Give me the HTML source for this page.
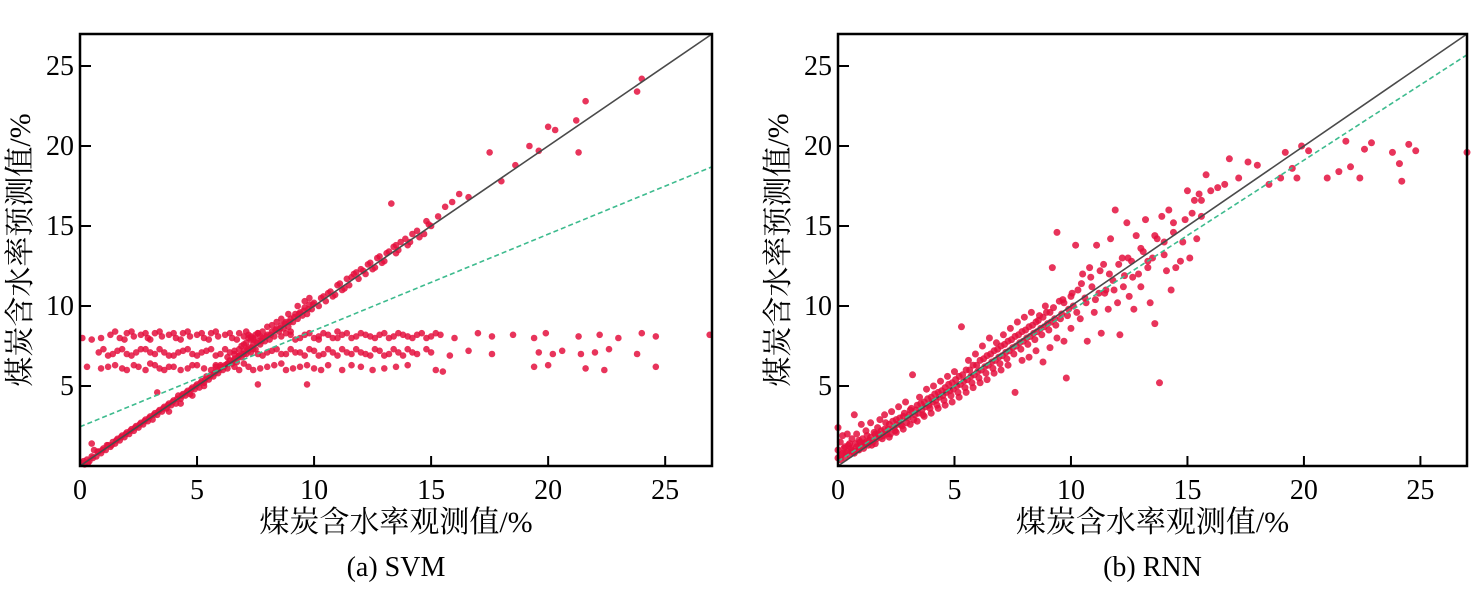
<!DOCTYPE html>
<html><head><meta charset="utf-8"><style>
html,body{margin:0;padding:0;background:#fff;}
svg{display:block;}
text{font-family:"Liberation Serif","Noto Serif CJK SC",serif;fill:#000;}
</style></head><body>
<svg id="fig" width="1471" height="610" viewBox="0 0 1471 610" xmlns="http://www.w3.org/2000/svg"></svg>
<script>
const xTicks=[0,5,10,15,20,25];
const yTicks=[5,10,15,20,25];
const svmDiag=[[0.1,0.2],[0.2,0.1],[0.3,0.4],[0.4,0.3],[0.5,0.6],[0.5,1.4],[0.6,1.0],[0.7,0.6],[0.8,0.9],[0.9,0.8],[1.0,1.1],[1.1,1.0],[1.2,1.3],[1.3,1.2],[1.4,1.5],[1.5,1.4],[1.6,1.7],[1.7,1.6],[1.8,1.9],[1.9,1.8],[2.0,2.1],[2.1,2.0],[2.2,2.3],[2.3,2.2],[2.4,2.5],[2.5,2.4],[2.6,2.7],[2.7,2.6],[2.8,2.9],[2.9,2.8],[3.0,3.1],[3.1,2.9],[3.2,3.3],[3.3,3.2],[3.3,4.6],[3.4,3.5],[3.5,3.4],[3.6,3.7],[3.7,3.6],[3.8,3.9],[3.9,3.8],[4.0,4.1],[4.1,3.9],[4.2,4.4],[4.3,4.2],[4.4,4.5],[4.5,4.4],[4.6,4.7],[4.7,4.5],[4.8,4.9],[4.9,4.8],[5.0,5.1],[5.1,4.9],[5.2,5.3],[5.3,5.2],[5.4,5.6],[5.5,5.4],[5.6,5.7],[5.7,5.6],[5.8,5.9],[5.9,5.8],[6.0,6.2],[6.1,6.0],[6.2,6.3],[6.3,6.1],[6.4,6.6],[6.5,6.4],[6.6,6.7],[6.7,6.5],[6.8,6.9],[6.9,6.8],[7.0,7.2],[7.1,7.0],[7.2,7.4],[7.3,7.1],[7.4,7.6],[7.5,7.3],[7.6,7.8],[7.7,7.6],[7.8,8.0],[7.9,7.8],[8.0,8.2],[8.1,7.9],[8.2,8.4],[8.3,8.1],[8.4,8.6],[8.5,8.4],[8.6,8.8],[8.7,8.6],[8.8,9.0],[8.9,8.7],[9.0,9.2],[9.1,9.0],[9.2,9.5],[9.3,9.2],[9.4,9.6],[9.5,9.4],[9.6,9.9],[9.7,9.5],[9.8,10.1],[9.9,9.8],[10.0,10.2],[10.2,10.0],[10.4,10.6],[10.5,10.3],[10.7,10.9],[10.9,10.7],[11.0,11.3],[11.2,11.0],[11.4,11.7],[11.5,11.3],[11.7,12.0],[11.9,11.7],[12.0,12.3],[12.2,12.0],[12.4,12.7],[12.6,12.4],[12.8,13.1],[13.0,12.8],[13.2,13.4],[13.3,16.4],[13.5,13.3],[13.5,13.8],[13.7,14.0],[14.0,13.8],[14.2,14.5],[14.5,14.3],[14.8,15.3],[15.0,15.0],[15.3,15.6],[15.6,16.2],[15.9,16.5],[16.2,17.0],[16.6,16.8],[17.5,19.6],[18.0,17.8],[18.6,18.8],[19.2,20.0],[19.6,19.7],[20.0,21.2],[20.3,21.0],[21.2,21.6],[21.6,22.8],[21.3,19.6],[23.8,23.4],[24.0,24.2]];
const svmDiag2=[[0.15,0.3],[0.35,0.2],[0.55,0.5],[0.75,0.9],[0.95,1.0],[1.15,1.3],[1.35,1.3],[1.55,1.6],[1.75,1.8],[1.95,2.0],[2.15,2.2],[2.35,2.4],[2.55,2.6],[2.75,2.8],[2.95,3.0],[3.15,3.2],[3.35,3.4],[3.55,3.6],[3.75,3.8],[3.95,4.0],[4.15,4.2],[4.35,4.4],[4.55,4.6],[4.75,4.8],[4.95,5.0],[5.15,5.2],[5.35,5.4],[5.55,5.6],[5.75,5.8],[5.95,6.0],[6.15,6.2],[6.35,6.4],[6.55,6.6],[6.75,6.8],[6.95,7.0],[7.15,7.3],[7.35,7.4],[7.55,7.7],[7.75,7.8],[7.95,8.1],[8.15,8.2],[8.35,8.5],[8.55,8.6],[8.75,8.9],[8.95,9.0],[9.15,9.3],[9.35,9.5],[9.55,9.7],[9.75,9.8],[9.95,10.1],[10.3,10.5],[10.6,10.8],[10.8,10.6],[11.1,11.4],[11.3,11.1],[11.6,11.8],[11.8,12.1],[12.1,12.2],[12.3,12.6],[12.5,12.3],[12.7,13.0],[12.9,12.7],[13.1,13.3],[13.4,13.7],[13.6,13.5],[13.9,14.2],[14.1,14.0],[14.4,14.7],[14.7,14.5],[14.9,15.1],[6.6,7.0],[7.0,7.6],[7.2,8.0],[7.4,7.9],[6.8,7.3],[7.8,8.4],[8.2,8.8],[8.6,9.2],[8.9,9.5],[9.3,10.0],[9.6,10.3],[9.8,10.5],[6.3,6.8],[5.8,6.3],[5.3,5.0],[4.8,4.4],[4.3,3.9],[3.8,3.4],[7.1,7.7],[7.3,8.1],[6.9,7.5],[7.6,8.3],[8.0,8.7],[8.4,9.0]];
const svmBandTop=[[0.1,8.0],[0.5,7.9],[0.9,8.0],[1.3,8.2],[1.7,8.0],[2.0,8.3],[2.3,8.1],[2.6,8.2],[2.9,8.0],[3.2,8.3],[3.5,8.1],[3.8,8.2],[4.1,8.0],[4.4,8.3],[4.7,8.1],[5.0,8.2],[5.3,8.0],[5.6,8.3],[5.9,8.1],[6.2,8.2],[6.5,8.0],[6.8,8.3],[7.0,8.1],[7.2,8.2],[7.4,8.0],[7.6,8.3],[8.6,8.1],[9.0,8.2],[9.4,8.0],[9.8,8.3],[10.2,8.1],[10.6,8.2],[11.0,8.0],[11.4,8.3],[11.8,8.1],[12.2,8.2],[12.6,8.0],[13.0,8.3],[13.4,8.1],[13.8,8.2],[14.2,8.0],[14.6,8.3],[15.0,8.1],[15.4,8.2],[16.0,8.0],[17.0,8.3],[17.6,8.1],[18.5,8.2],[19.4,8.0],[19.9,8.3],[21.3,8.1],[22.2,8.2],[23.0,8.0],[24.0,8.3],[24.6,8.1],[26.9,8.2]];
const svmBandTop2=[[1.5,8.4],[1.9,7.9],[2.2,8.4],[2.8,8.3],[3.0,7.9],[3.4,8.4],[4.0,8.3],[4.3,7.9],[4.6,8.4],[5.2,8.3],[5.5,7.9],[5.8,8.4],[6.4,8.3],[6.7,7.9],[7.1,8.4],[7.3,7.9],[7.5,8.2],[7.7,8.1],[8.8,8.3],[9.2,7.9],[9.6,8.2],[10.0,8.0],[10.4,8.3],[10.8,8.0],[11.2,8.2],[11.6,8.0],[12.0,8.3],[12.4,8.1],[12.8,8.2],[13.2,8.0],[13.6,8.3],[14.0,8.1],[14.4,8.2],[14.8,8.0],[15.2,8.3],[11.0,8.4],[9.0,8.4],[10.2,7.9]];
const svmBandMid=[[0.8,7.1],[1.2,6.9],[1.6,7.2],[2.0,7.0],[2.4,7.1],[2.8,7.3],[3.2,7.0],[3.6,7.1],[4.0,6.9],[4.4,7.2],[4.8,7.0],[5.2,7.1],[5.6,7.3],[6.0,7.0],[6.4,7.1],[6.8,6.9],[7.2,7.2],[7.6,7.0],[8.0,7.1],[8.4,7.3],[8.8,7.0],[9.2,7.1],[9.6,6.9],[10.0,7.2],[10.4,7.0],[10.8,7.1],[11.2,7.3],[11.6,7.0],[12.0,7.1],[12.4,6.9],[12.8,7.2],[13.2,7.0],[13.6,7.1],[14.0,7.3],[14.4,7.0],[15.0,7.1],[15.8,6.9],[16.6,7.2],[17.6,7.0],[19.6,7.1],[20.2,7.0],[20.6,7.2],[21.4,7.0],[22.0,7.1],[22.6,7.3],[23.8,7.0]];
const svmBandMid2=[[1.0,7.3],[1.4,7.0],[1.8,7.3],[2.2,6.9],[2.6,7.3],[3.0,7.1],[3.4,7.3],[3.8,6.9],[4.2,7.1],[4.6,7.3],[5.0,6.9],[5.4,7.2],[5.8,6.9],[6.2,7.3],[6.6,7.2],[7.0,7.0],[7.4,7.3],[7.8,6.9],[8.2,7.2],[8.6,7.0],[9.0,7.3],[9.4,7.1],[9.8,7.3],[10.2,6.9],[10.6,7.3],[11.0,6.9],[11.4,7.1],[11.8,7.3],[12.2,7.0],[12.6,7.3],[13.0,6.9],[13.4,7.3],[13.8,6.9],[14.2,7.1],[14.8,7.3]];
const svmBandLow=[[0.3,6.2],[0.9,6.1],[1.5,6.3],[2.0,6.0],[2.5,6.2],[3.0,6.4],[3.4,6.1],[3.8,6.2],[4.3,6.0],[4.8,6.3],[5.3,6.1],[5.8,6.2],[6.3,6.4],[6.8,6.0],[7.2,6.2],[7.7,6.1],[8.3,6.3],[8.8,6.0],[9.4,6.2],[10.0,6.1],[10.6,6.3],[11.2,6.0],[12.0,6.2],[13.0,6.1],[14.0,6.3],[15.2,6.0],[19.4,6.2],[20.0,6.3],[21.6,6.1],[22.4,6.0],[24.6,6.2],[7.6,5.1],[9.7,5.1],[15.5,5.9]];
const svmBandLow2=[[1.2,6.2],[1.8,6.1],[2.3,6.3],[2.8,6.0],[3.2,6.3],[3.6,6.0],[4.0,6.2],[4.6,6.1],[5.0,6.3],[5.6,6.0],[6.0,6.3],[6.6,6.2],[7.0,6.4],[7.4,6.0],[8.0,6.2],[8.6,6.4],[9.1,6.1],[9.7,6.3],[10.3,6.0],[11.6,6.3],[12.5,6.0],[13.5,6.2]];
const rnnPts=[[0.0,0.5],[0.0,1.0],[0.0,2.4],[0.1,1.5],[0.1,0.4],[0.2,0.8],[0.2,1.9],[0.3,0.5],[0.3,1.2],[0.4,0.9],[0.4,2.0],[0.5,0.7],[0.5,1.4],[0.6,1.0],[0.6,1.7],[0.7,0.8],[0.7,3.2],[0.8,1.2],[0.8,2.0],[0.9,1.0],[0.9,1.6],[1.0,1.3],[1.0,2.6],[1.1,1.1],[1.2,1.5],[1.2,2.2],[1.3,1.3],[1.4,1.8],[1.4,2.7],[1.5,1.5],[1.6,2.0],[1.6,1.4],[1.7,2.4],[1.8,1.8],[1.8,2.9],[1.9,1.7],[2.0,2.3],[2.0,3.2],[2.1,2.0],[2.2,2.6],[2.2,1.8],[2.3,3.4],[2.4,2.4],[2.5,2.9],[2.5,2.1],[2.6,3.7],[2.7,2.6],[2.8,3.1],[2.8,2.3],[2.9,4.0],[3.0,3.0],[3.1,3.5],[3.1,2.6],[3.2,5.7],[3.3,3.2],[3.4,3.8],[3.4,2.8],[3.5,4.3],[3.6,3.5],[3.7,4.0],[3.7,3.1],[3.8,4.8],[3.9,3.8],[4.0,4.3],[4.0,3.3],[4.1,5.0],[4.2,4.1],[4.3,4.6],[4.3,3.6],[4.4,5.3],[4.5,4.4],[4.6,4.9],[4.6,3.8],[4.7,5.6],[4.8,4.7],[4.9,5.2],[4.9,4.0],[5.0,5.9],[5.1,5.0],[5.2,5.6],[5.2,4.3],[5.3,8.7],[5.4,5.3],[5.5,6.0],[5.5,4.6],[5.6,6.6],[5.7,5.6],[5.8,6.3],[5.8,4.9],[5.9,7.0],[6.0,5.9],[6.1,6.6],[6.1,5.2],[6.2,7.5],[6.3,6.2],[6.4,6.9],[6.4,5.4],[6.5,8.0],[6.6,6.5],[6.7,7.2],[6.7,5.8],[6.8,7.7],[6.9,6.8],[7.0,7.5],[7.0,6.0],[7.1,8.2],[7.2,7.1],[7.3,7.8],[7.3,6.3],[7.4,8.6],[7.5,7.4],[7.6,8.1],[7.6,4.6],[7.7,9.0],[7.8,7.7],[7.9,8.4],[7.9,6.6],[8.0,9.3],[8.1,8.0],[8.2,8.7],[8.2,6.8],[8.3,9.6],[8.4,8.3],[8.5,9.0],[8.5,7.2],[8.6,9.1],[8.7,8.6],[8.8,9.3],[8.8,6.5],[8.9,10.0],[9.0,8.9],[9.1,9.6],[9.1,7.4],[9.2,12.4],[9.3,9.2],[9.4,14.6],[9.4,8.0],[9.5,10.3],[9.6,9.5],[9.7,10.2],[9.7,7.8],[9.8,5.5],[9.9,9.8],[10.0,10.6],[10.0,8.6],[10.1,10.0],[10.2,13.8],[10.3,11.0],[10.4,9.2],[10.5,12.0],[10.6,10.5],[10.7,7.8],[10.8,12.4],[10.9,11.2],[11.0,9.6],[11.1,13.8],[11.2,10.8],[11.3,8.3],[11.4,12.6],[11.5,11.0],[11.6,9.8],[11.7,14.2],[11.8,11.6],[11.9,16.0],[12.0,10.2],[12.1,8.2],[12.2,13.0],[12.3,11.9],[12.4,15.2],[12.5,10.6],[12.6,12.8],[12.7,9.8],[12.8,14.4],[12.9,12.0],[13.0,11.2],[13.1,13.4],[13.2,15.4],[13.3,12.4],[13.4,10.2],[13.5,13.0],[13.6,8.9],[13.7,14.2],[13.8,5.2],[13.9,15.6],[14.0,14.0],[14.1,12.2],[14.2,16.0],[14.3,11.0],[14.4,14.6],[14.5,12.4],[14.7,12.8],[14.9,15.4],[15.0,17.2],[15.1,13.0],[15.3,16.6],[15.4,14.2],[15.5,17.0],[15.6,15.6],[15.8,18.2],[16.0,17.2],[16.3,17.4],[16.6,17.6],[16.8,19.2],[17.2,18.0],[17.6,19.0],[18.0,18.8],[18.5,17.6],[19.0,18.0],[19.2,19.6],[19.5,18.6],[19.7,18.0],[19.9,20.0],[20.2,19.7],[21.0,18.0],[21.5,18.4],[21.8,20.3],[22.0,18.7],[22.4,18.0],[22.6,19.8],[22.9,20.2],[23.8,19.6],[24.1,18.9],[24.2,17.8],[24.5,20.1],[24.8,19.7],[27.0,19.6]];
const rnnCore=[[0.15,0.7],[0.25,1.1],[0.35,0.8],[0.45,1.3],[0.55,1.1],[0.65,0.9],[0.75,1.4],[0.85,1.0],[0.95,1.5],[1.05,1.7],[1.15,1.4],[1.25,1.9],[1.35,1.6],[1.45,1.3],[1.55,2.1],[1.65,1.7],[1.75,2.0],[1.85,2.2],[1.95,1.9],[2.05,2.7],[2.15,2.3],[2.25,2.0],[2.35,2.8],[2.45,2.2],[2.55,2.6],[2.65,3.0],[2.75,2.5],[2.85,3.3],[2.95,2.7],[3.05,3.2],[3.15,3.6],[3.25,2.9],[3.35,3.5],[3.45,3.3],[3.55,3.9],[3.65,3.2],[3.75,3.7],[3.85,4.2],[3.95,3.6],[4.05,4.0],[4.15,4.5],[4.25,3.8],[4.35,4.3],[4.45,4.7],[4.55,4.1],[4.65,4.6],[4.75,5.1],[4.85,4.4],[4.95,4.8],[5.05,5.4],[5.15,4.6],[5.25,5.1],[5.35,5.7],[5.45,4.9],[5.55,5.4],[5.65,6.0],[5.75,5.2],[5.85,5.7],[5.95,6.3],[6.05,5.5],[6.15,6.0],[6.25,6.7],[6.35,5.8],[6.45,6.3],[6.55,7.0],[6.65,6.1],[6.75,6.6],[6.85,7.3],[6.95,6.4],[7.05,6.9],[7.15,7.6],[7.25,6.7],[7.35,7.2],[7.45,7.9],[7.55,7.0],[7.65,7.5],[7.75,8.2],[7.85,7.3],[7.95,7.8],[8.05,8.5],[8.15,7.6],[8.25,8.1],[8.35,8.8],[8.45,7.9],[8.55,8.4],[8.65,9.4],[8.75,8.2],[8.85,8.7],[8.95,9.6],[9.05,8.5],[9.15,9.0],[9.25,9.9],[9.35,8.8],[9.55,9.2],[9.65,10.4],[9.85,9.4],[10.05,10.8],[10.25,9.6],[10.45,11.4],[10.65,10.2],[10.85,11.8],[11.05,10.4],[11.25,12.2],[11.45,10.8],[11.65,12.0],[11.85,11.0],[12.05,12.6],[12.25,11.2],[12.45,13.0],[12.65,11.8],[13.0,13.6],[13.3,12.8],[13.6,14.4],[14.0,13.2],[14.4,15.2],[14.8,14.0],[15.2,15.8],[15.6,16.6]];
const svmFit=[2.45,18.7];
const rnnFit=[0.3,25.7];

const NS="http://www.w3.org/2000/svg";
const svg=document.getElementById('fig');
function mk(tag,attrs,parent){const e=document.createElementNS(NS,tag);for(const k in attrs)e.setAttribute(k,attrs[k]);(parent||svg).appendChild(e);return e;}

function panel(x0,x1,ptsList,fit,label,r){
  const yB=466,yT=34,max=27;
  const sx=v=>x0+(x1-x0)*v/max, sy=v=>yB-(yB-yT)*v/max;
  const g=mk('g',{});
  
  
  const pg=mk('g',{fill:'#e4103e','fill-opacity':'0.85'},g);
  
  
  ptsList.forEach(pts=>pts.forEach(p=>{
    const c=mk('circle',{cx:sx(p[0]),cy:sy(p[1]),r:r},pg);
    
    
  }));
  const l1=mk('line',{x1:sx(0),y1:sy(0),x2:sx(max),y2:sy(max),stroke:'#4a4a4a','stroke-width':1.6},g);
  
  
  const l2=mk('line',{x1:sx(0),y1:sy(fit[0]),x2:sx(max),y2:sy(fit[1]),stroke:'#3dbb8e','stroke-width':1.6,'stroke-dasharray':'5,3'},g);
  
  
  const fr=mk('rect',{x:x0,y:yT,width:x1-x0,height:yB-yT,fill:'none',stroke:'#000','stroke-width':2.5},g);
  
  
  xTicks.forEach(t=>{
    const tk=mk('line',{x1:sx(t),y1:yB,x2:sx(t),y2:yB-10,stroke:'#000','stroke-width':2},g);
    
    
    const tx=mk('text',{x:sx(t),y:yB+33,'text-anchor':'middle','font-size':28},g);
    tx.textContent=t;
    
    
  });
  yTicks.forEach(t=>{
    const tk=mk('line',{x1:x0,y1:sy(t),x2:x0+11,y2:sy(t),stroke:'#000','stroke-width':2},g);
    
    
    const tx=mk('text',{x:x0-6,y:sy(t)+9,'text-anchor':'end','font-size':28},g);
    tx.textContent=t;
    
    
  });
  const cx=(x0+x1)/2;
  const xt=mk('text',{x:cx,y:532,'text-anchor':'middle','font-size':30},g);
  xt.textContent='煤炭含水率观测值/%';
  
  
  const cap=mk('text',{x:cx,y:576,'text-anchor':'middle','font-size':28},g);
  cap.textContent=label;
  
  
  const yc=250,yx=x0-50;
  const yt=mk('text',{x:yx,y:yc,'text-anchor':'middle','font-size':30,transform:`rotate(-90 ${yx} ${yc})`},g);
  yt.textContent='煤炭含水率预测值/%';
  
  
}
panel(80,712,[svmBandTop,svmBandTop2,svmBandMid,svmBandMid2,svmBandLow,svmBandLow2,svmDiag,svmDiag2],svmFit,'(a) SVM',3.3);
panel(838,1467,[rnnPts,rnnCore],rnnFit,'(b) RNN',3.5);
</script>
</body></html>
